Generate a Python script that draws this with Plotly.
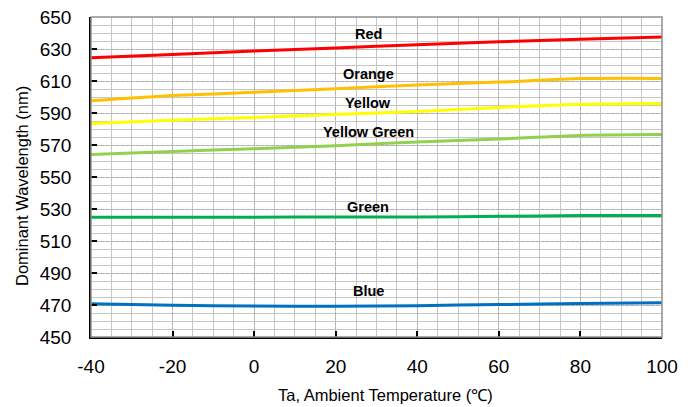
import plotly.graph_objects as go

temps = [-40, -20, 0, 20, 40, 60, 80, 100]
red = [624.5, 626.6, 628.7, 630.7, 632.6, 634.5, 636.1, 637.5]
orange = [597.6, 600.9, 602.9, 605.2, 607.5, 609.3, 611.5, 611.6]
yellow = [583.5, 585.5, 587.2, 589.1, 590.9, 593.5, 595.4, 595.9]
yellow_green = [564.0, 566.0, 567.6, 569.6, 571.9, 573.8, 576.0, 576.5]
green = [524.9, 524.9, 524.9, 525.0, 525.0, 525.4, 525.9, 526.0]
blue = [470.8, 469.8, 469.3, 469.2, 469.6, 470.3, 470.9, 471.4]

series = [
    ("Red", red, "#FF0000", 639.5),
    ("Orange", orange, "#FFC000", 614.5),
    ("Yellow", yellow, "#FFFF00", 596.3),
    ("Yellow Green", yellow_green, "#92D050", 578.2),
    ("Green", green, "#00B050", 531.2),
    ("Blue", blue, "#0070C0", 478.6),
]
label_x = 28

x_ticks = list(range(-40, 101, 20))
y_ticks = list(range(450, 651, 20))

FONT = "Liberation Sans, Arial"

fig = go.Figure()
for name, vals, color, ly in series:
    fig.add_trace(go.Scatter(x=temps, y=vals, mode="lines", name=name,
                             line=dict(color=color, width=3, shape="spline", smoothing=0.6),
                             showlegend=False))
    fig.add_annotation(x=label_x, y=ly, text="<b>%s</b>" % name, showarrow=False,
                       font=dict(family=FONT, size=14.5, color="black"))

fig.add_shape(type="rect", xref="paper", yref="paper", x0=0, y0=0, x1=1, y1=1,
              line=dict(color="#909090", width=1.5), layer="above")

common = dict(showgrid=True, gridcolor="#b0b0b0", griddash="3px,2px", gridwidth=1.2,
              minor=dict(dtick=5, showgrid=True, gridcolor="#c6c6c6", gridwidth=1.3,
                         griddash="solid"),
              ticks="inside", ticklen=6, tickcolor="black", tickwidth=1.5,
              showline=True, linecolor="black", linewidth=1.5, zeroline=False,
              automargin=False,
              tickfont=dict(family=FONT, size=19, color="black"))

fig.update_xaxes(range=[-40, 100], tickvals=x_ticks, ticktext=[str(v) for v in x_ticks],
                 ticklabelstandoff=11, **common)
fig.update_yaxes(range=[450, 650], tickvals=y_ticks, ticktext=[str(v) for v in y_ticks],
                 ticklabelstandoff=14, **common)

fig.add_annotation(xref="paper", yref="paper", x=0.5, y=0, yshift=-58, xshift=9,
                   xanchor="center", yanchor="middle",
                   text="Ta, Ambient Temperature (℃)", showarrow=False,
                   font=dict(family=FONT, size=16.5, color="black"))
fig.add_annotation(xref="paper", yref="paper", x=0, y=0.5, xshift=-69, yshift=-9,
                   xanchor="center", yanchor="middle", textangle=-90,
                   text="Dominant Wavelength (nm)", showarrow=False,
                   font=dict(family=FONT, size=16.5, color="black"))

fig.update_layout(width=695, height=407, margin=dict(l=91, r=33, t=17, b=70),
                  plot_bgcolor="white", paper_bgcolor="white")
fig.write_html("out.html")
